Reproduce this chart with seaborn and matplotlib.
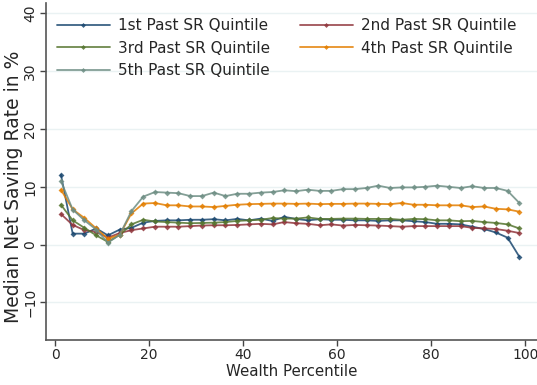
import numpy as np
import pandas as pd
import matplotlib
matplotlib.use("Agg")
import matplotlib.pyplot as plt
import seaborn as sns

percentile = [1.25 + 2.5 * i for i in range(40)]

q1 = [12.1, 1.9, 1.9, 2.8, 1.6, 2.6, 2.9, 3.8, 4.1, 4.2,
      4.2, 4.3, 4.3, 4.4, 4.2, 4.45, 4.2, 4.5, 4.1, 4.8,
      4.45, 4.2, 4.4, 4.3, 4.3, 4.2, 4.2, 4.1, 4.2, 4.2,
      4.05, 3.9, 3.6, 3.6, 3.5, 3.1, 2.7, 2.1, 1.2, -2.1]
q2 = [5.3, 3.4, 2.5, 2.2, 1.2, 2.0, 2.5, 2.8, 3.1, 3.1,
      3.1, 3.2, 3.3, 3.35, 3.35, 3.4, 3.5, 3.6, 3.5, 3.9,
      3.7, 3.6, 3.35, 3.5, 3.3, 3.4, 3.35, 3.3, 3.2, 3.1,
      3.2, 3.2, 3.2, 3.2, 3.2, 2.9, 2.8, 2.7, 2.4, 2.0]
q3 = [6.9, 4.2, 2.9, 1.6, 0.46, 1.7, 3.5, 4.3, 4.0, 3.9,
      3.8, 3.7, 3.75, 3.8, 3.9, 4.1, 4.2, 4.3, 4.6, 4.5,
      4.5, 4.7, 4.45, 4.45, 4.5, 4.5, 4.45, 4.45, 4.45, 4.3,
      4.45, 4.4, 4.2, 4.2, 4.05, 4.1, 3.9, 3.75, 3.5, 2.8]
q4 = [9.5, 6.1, 4.6, 2.8, 1.0, 1.7, 5.4, 7.1, 7.2, 6.8,
      6.8, 6.6, 6.6, 6.5, 6.7, 6.9, 7.0, 7.05, 7.1, 7.1,
      7.05, 7.1, 7.0, 7.05, 7.05, 7.1, 7.1, 7.05, 7.0, 7.2,
      6.9, 6.9, 6.8, 6.8, 6.8, 6.5, 6.6, 6.2, 6.1, 5.7]
q5 = [11.0, 6.07, 4.2, 2.6, 0.35, 1.7, 5.8, 8.3, 9.1, 9.0,
      8.9, 8.4, 8.4, 9.0, 8.4, 8.8, 8.8, 9.0, 9.1, 9.4,
      9.25, 9.5, 9.3, 9.3, 9.6, 9.6, 9.8, 10.2, 9.8, 9.9,
      9.9, 10.0, 10.2, 10.0, 9.8, 10.1, 9.8, 9.8, 9.3, 7.2]

labels = ["1st Past SR Quintile", "2nd Past SR Quintile", "3rd Past SR Quintile",
          "4th Past SR Quintile", "5th Past SR Quintile"]
series = [q1, q2, q3, q4, q5]
colors = ["#1a476f", "#90353b", "#55752f", "#e37e00", "#6e8e84"]

df = pd.concat([pd.DataFrame({"pct": percentile, "val": s, "grp": lab})
                for s, lab in zip(series, labels)], ignore_index=True)

sns.set_style("white")
plt.rcParams['font.family'] = ['DejaVu Sans']

fig = plt.figure(figsize=(5.37, 3.85), dpi=100)
ax = fig.add_axes([0.085, 0.117, 0.915, 0.875])

for y in [-10, 0, 10, 20, 30, 40]:
    ax.axhline(y, color="#eaf2f3", lw=1.0, zorder=0)

sns.lineplot(data=df, x="pct", y="val", hue="grp", hue_order=labels,
             palette=colors, marker="D", markersize=3, markeredgewidth=0,
             lw=1.3, alpha=0.85, ax=ax, legend=False)

handles = {lab: plt.Line2D([], [], color=c, lw=1.3, alpha=0.85, marker="D",
                           markersize=2.5, markeredgewidth=0)
           for lab, c in zip(labels, colors)}
order = [0, 2, 4, 1, 3]
ax.legend([handles[labels[i]] for i in order], [labels[i] for i in order],
          ncol=2, loc="upper left", frameon=False,
          fontsize=11, handlelength=3.5, columnspacing=1.9, labelspacing=0.48,
          handletextpad=0.54, borderpad=0, borderaxespad=0,
          bbox_to_anchor=(56.7 / 537, 1 - 18.5 / 385), bbox_transform=fig.transFigure)

ax.set_xlim(-2, 102.5)
ax.set_ylim(-16.5, 41.8)
ax.set_xticks([0, 20, 40, 60, 80, 100])
ax.set_yticks([-10, 0, 10, 20, 30, 40])
ax.set_yticklabels(["\u221210", "0", "10", "20", "30", "40"], rotation=90, va="center")
ax.tick_params(axis="both", direction="out", length=4, width=1, color="#444444",
               labelsize=10, pad=2, left=True, bottom=True)
for s in ["top", "right"]:
    ax.spines[s].set_visible(False)
for s in ["left", "bottom"]:
    ax.spines[s].set_color("#555555")
    ax.spines[s].set_linewidth(1.2)

ax.set_xlabel("Wealth Percentile", fontsize=10.8, labelpad=1)
ax.set_ylabel("Median Net Saving Rate in %", fontsize=13.5)
ax.yaxis.set_label_coords(-0.047, 0.455)

fig.savefig("out.png", dpi=100)
